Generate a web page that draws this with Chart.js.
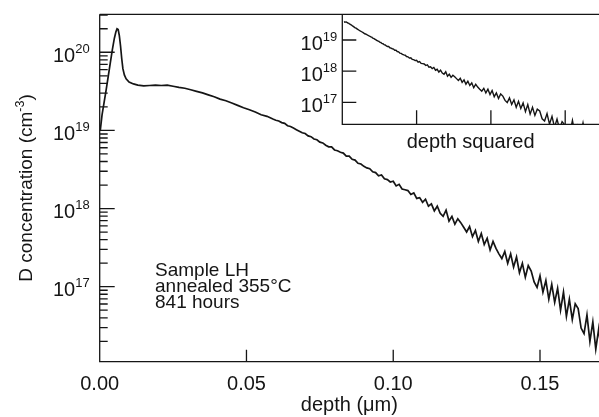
<!DOCTYPE html>
<html>
<head>
<meta charset="utf-8">
<script src="https://cdn.jsdelivr.net/npm/chart.js@4.4.1/dist/chart.umd.min.js"></script>
<style>
  html, body { margin: 0; padding: 0; background: #fff; }
  #wrap { position: relative; width: 599px; height: 417px; }
  #inset { position: absolute; left: 290px; top: 0; }
</style>
</head>
<body>
<div id="wrap">
  <canvas id="mainChart" width="599" height="417"></canvas>
  <canvas id="inset" width="309" height="160"></canvas>
</div>
<script>
/*************************************************
 * DATA
 *************************************************/
// depth in micrometres
const depth = [
  0.0002, 0.0008, 0.0015, 0.0022, 0.0029, 0.0036, 0.0043, 0.0050, 0.0055, 0.0059,
  0.0063, 0.0067, 0.0071, 0.0075, 0.0079, 0.0084, 0.0090, 0.0100, 0.0115, 0.0130,
  0.0150, 0.0170, 0.0190, 0.0210, 0.0230, 0.0250, 0.0270, 0.0290, 0.0310, 0.0330,
  0.0350, 0.0370, 0.0390, 0.0410, 0.0430, 0.0450, 0.0470, 0.0490, 0.0510, 0.0530,
  0.0550, 0.0570, 0.0590,
  0.060, 0.061, 0.062, 0.063, 0.064, 0.065, 0.066, 0.067, 0.068, 0.069,
  0.070, 0.071, 0.072, 0.073, 0.074, 0.075, 0.076, 0.077, 0.078, 0.079,
  0.080, 0.081, 0.082, 0.083, 0.084, 0.085, 0.086, 0.087, 0.088, 0.089,
  0.090, 0.091, 0.092, 0.093, 0.094, 0.095, 0.096, 0.097, 0.098, 0.099,
  0.100, 0.101, 0.102, 0.103, 0.104, 0.105, 0.106, 0.107, 0.108, 0.109,
  0.110, 0.111, 0.112, 0.113, 0.114, 0.115, 0.116, 0.117, 0.118, 0.119,
  0.120, 0.121, 0.122, 0.123, 0.124, 0.125, 0.126, 0.127, 0.128, 0.129,
  0.130, 0.131, 0.132, 0.133, 0.134, 0.135, 0.136, 0.137, 0.138, 0.139,
  0.140, 0.141, 0.142, 0.143, 0.144, 0.145, 0.146, 0.147, 0.148, 0.149,
  0.150, 0.151, 0.152, 0.153, 0.154, 0.155, 0.156, 0.157, 0.158, 0.159,
  0.160, 0.161, 0.162, 0.163, 0.164, 0.165, 0.166, 0.167, 0.168, 0.169,
  0.170, 0.171, 0.172, 0.173, 0.174, 0.175, 0.176, 0.177, 0.178, 0.179,
  0.180, 0.181, 0.182
];

// log10 of D concentration (cm^-3)
const logConc = [
  19.00, 19.20, 19.36, 19.52, 19.69, 19.86, 20.03, 20.18, 20.26, 20.30,
  20.29, 20.21, 20.08, 19.92, 19.79, 19.71, 19.66, 19.62, 19.595, 19.58,
  19.57, 19.575, 19.58, 19.575, 19.58, 19.565, 19.55, 19.54, 19.52, 19.50,
  19.48, 19.455, 19.43, 19.40, 19.38, 19.35, 19.32, 19.29, 19.265, 19.235,
  19.20, 19.18, 19.145,
  19.13, 19.12, 19.10, 19.09, 19.06, 19.05, 19.03, 19.01, 18.99, 18.97,
  18.96, 18.93, 18.92, 18.89, 18.88, 18.85, 18.84, 18.81, 18.79, 18.79,
  18.75, 18.74, 18.72, 18.71, 18.67, 18.67, 18.63, 18.62, 18.58, 18.57,
  18.54, 18.52, 18.51, 18.47, 18.46, 18.42, 18.43, 18.38, 18.37, 18.34,
  18.35, 18.29, 18.31, 18.25, 18.24, 18.23, 18.18, 18.20, 18.13, 18.14,
  18.08, 18.12, 18.03, 18.06, 17.97, 18.03, 17.94, 17.90, 17.98, 17.84,
  17.90, 17.80, 17.87, 17.82, 17.76, 17.70, 17.77, 17.64, 17.72, 17.58,
  17.68, 17.54, 17.62, 17.47, 17.58, 17.49, 17.42, 17.36, 17.45, 17.30,
  17.42, 17.25, 17.38, 17.18, 17.30, 17.12, 17.27, 17.20, 17.06, 16.99,
  17.14, 16.93, 17.08, 16.84, 17.03, 16.80, 16.98, 16.70, 16.93, 16.62,
  16.84, 16.58, 16.78, 16.72, 16.47, 16.40, 16.64, 16.30, 16.55, 16.20,
  16.46, 16.14, 16.38, 16.28, 16.06, 16.00, 16.42, 15.96, 16.24, 15.92,
  16.34, 15.88, 16.12
];

const xTicks = [0, 0.05, 0.10, 0.15];
const yTicks = [17, 18, 19, 20];          // decades, 10^n
const insetXTicks = [1, 2, 3];            // depth squared, 0.01 um^2 units
const insetYTicks = [17, 18, 19];
const noteLines = ["Sample LH", "annealed 355\u00B0C", "841 hours"];

/*************************************************
 * STYLE
 *************************************************/
const FONT = '"Liberation Sans", Arial, Helvetica, sans-serif';
const INK = "#151515";

/*************************************************
 * FRAME PLUGIN (axes, inward ticks, labels)
 *************************************************/
function drawPow(ctx, exp, right, py) {
  ctx.font = "20px " + FONT;
  const w1 = ctx.measureText("10").width;
  ctx.font = "13px " + FONT;
  const w2 = ctx.measureText(String(exp)).width;
  const x0 = right - w1 - w2;
  ctx.font = "20px " + FONT;
  ctx.fillText("10", x0, py + 9.5);
  ctx.font = "13px " + FONT;
  ctx.fillText(String(exp), x0 + w1, py + 0.5);
}

const framePlugin = {
  id: "frame",
  afterDraw(chart, args, o) {
    const { ctx, chartArea: a, scales: { x, y } } = chart;
    ctx.save();
    ctx.strokeStyle = INK;
    ctx.fillStyle = INK;
    ctx.lineWidth = 1.3;

    ctx.beginPath();
    if (o.top) { ctx.moveTo(a.left, a.top); ctx.lineTo(a.right, a.top); }
    ctx.moveTo(a.left, a.top);
    ctx.lineTo(a.left, a.bottom);
    ctx.lineTo(a.right, a.bottom);

    o.yTicks.forEach(e => {
      const py = y.getPixelForValue(Math.pow(10, e));
      ctx.moveTo(a.left, py);
      ctx.lineTo(a.left + o.majorLen, py);
    });
    if (o.minorLen) {
      for (let e = 15; e <= 21; e++) {
        for (let m = 2; m <= 9; m++) {
          const v = m * Math.pow(10, e);
          if (v <= y.min || v >= y.max) continue;
          const py = y.getPixelForValue(v);
          ctx.moveTo(a.left, py);
          ctx.lineTo(a.left + o.minorLen, py);
        }
      }
    }
    o.xTicks.forEach(v => {
      const px = x.getPixelForValue(v);
      ctx.moveTo(px, a.bottom);
      ctx.lineTo(px, a.bottom - o.xTickLen);
    });
    ctx.stroke();

    // y tick labels
    ctx.textAlign = "left";
    ctx.textBaseline = "alphabetic";
    o.yTicks.forEach(e => {
      drawPow(ctx, e, a.left - o.labelGap, y.getPixelForValue(Math.pow(10, e)));
    });

    // x tick labels
    if (o.xLabels) {
      ctx.font = "20px " + FONT;
      ctx.textAlign = "center";
      o.xTicks.forEach(v => {
        ctx.fillText(v.toFixed(2), x.getPixelForValue(v), a.bottom + 28);
      });
    }

    // x title
    ctx.font = "20px " + FONT;
    ctx.textAlign = "center";
    ctx.fillText(o.xTitle, (a.left + a.right) / 2, o.xTitleY);

    // y title with superscript
    if (o.yTitle) {
      const main = "D concentration (cm";
      ctx.font = "19px " + FONT;
      const w1 = ctx.measureText(main).width;
      const w3 = ctx.measureText(")").width;
      ctx.font = "12.5px " + FONT;
      const w2 = ctx.measureText("-3").width;
      const tot = w1 + w2 + w3;
      ctx.save();
      ctx.translate(31.5, (a.top + a.bottom) / 2);
      ctx.rotate(-Math.PI / 2);
      ctx.textAlign = "left";
      ctx.font = "19px " + FONT;
      ctx.fillText(main, -tot / 2, 0);
      ctx.font = "12.5px " + FONT;
      ctx.fillText("-3", -tot / 2 + w1, -8);
      ctx.font = "19px " + FONT;
      ctx.fillText(")", -tot / 2 + w1 + w2, 0);
      ctx.restore();
    }

    // note text
    if (o.note) {
      ctx.font = "19px " + FONT;
      ctx.textAlign = "left";
      o.note.forEach((t, i) => ctx.fillText(t, 155, 276 + i * 16));
    }
    ctx.restore();
  }
};

/*************************************************
 * MAIN CHART
 *************************************************/
const mainPoints = depth.map((d, i) => ({ x: d, y: Math.pow(10, logConc[i]) }));

new Chart(document.getElementById("mainChart"), {
  type: "line",
  data: {
    datasets: [{
      data: mainPoints,
      borderColor: INK,
      borderWidth: 1.7,
      pointRadius: 0,
      tension: 0,
      fill: false
    }]
  },
  options: {
    responsive: false,
    animation: false,
    events: [],
    layout: { padding: { top: 14.3, right: 0, left: 0, bottom: 0 } },
    plugins: {
      legend: { display: false },
      tooltip: { enabled: false },
      frame: {
        top: true,
        yTicks, xTicks,
        majorLen: 15, minorLen: 8, xTickLen: 12,
        labelGap: 10,
        xLabels: true,
        xTitle: "depth (\u03BCm)", xTitleY: 411,
        yTitle: true,
        note: noteLines
      }
    },
    scales: {
      x: {
        type: "linear", min: 0, max: 0.1701,
        ticks: { display: false }, grid: { display: false }, border: { display: false },
        afterFit(s) { s.height = 55.3; }
      },
      y: {
        type: "logarithmic", min: Math.pow(10, 16.04), max: Math.pow(10, 20.486),
        ticks: { display: false }, grid: { display: false }, border: { display: false },
        afterFit(s) { s.width = 99.7; }
      }
    }
  },
  plugins: [framePlugin]
});

/*************************************************
 * INSET (same profile vs depth squared)
 *************************************************/
const insetPoints = depth
  .map((d, i) => ({ x: d * d * 100, y: Math.pow(10, logConc[i]) }))
  .filter((p, i) => depth[i] >= 0.015);

new Chart(document.getElementById("inset"), {
  type: "line",
  data: {
    datasets: [{
      data: insetPoints,
      borderColor: INK,
      borderWidth: 1.4,
      pointRadius: 0,
      tension: 0,
      fill: false
    }]
  },
  options: {
    responsive: false,
    animation: false,
    events: [],
    layout: { padding: { top: 14.3, right: 0, left: 0, bottom: 0 } },
    plugins: {
      legend: { display: false },
      tooltip: { enabled: false },
      frame: {
        top: false,
        yTicks: insetYTicks, xTicks: insetXTicks,
        majorLen: 14, minorLen: 0, xTickLen: 14,
        labelGap: 5,
        xLabels: false,
        xTitle: "depth squared", xTitleY: 148.3,
        yTitle: false
      }
    },
    scales: {
      x: {
        type: "linear", min: 0, max: 3.455,
        ticks: { display: false }, grid: { display: false }, border: { display: false },
        afterFit(s) { s.height = 35.7; }
      },
      y: {
        type: "logarithmic", min: Math.pow(10, 16.294), max: Math.pow(10, 19.825),
        ticks: { display: false }, grid: { display: false }, border: { display: false },
        afterFit(s) { s.width = 52.3; }
      }
    }
  },
  plugins: [framePlugin]
});
</script>
</body>
</html>
